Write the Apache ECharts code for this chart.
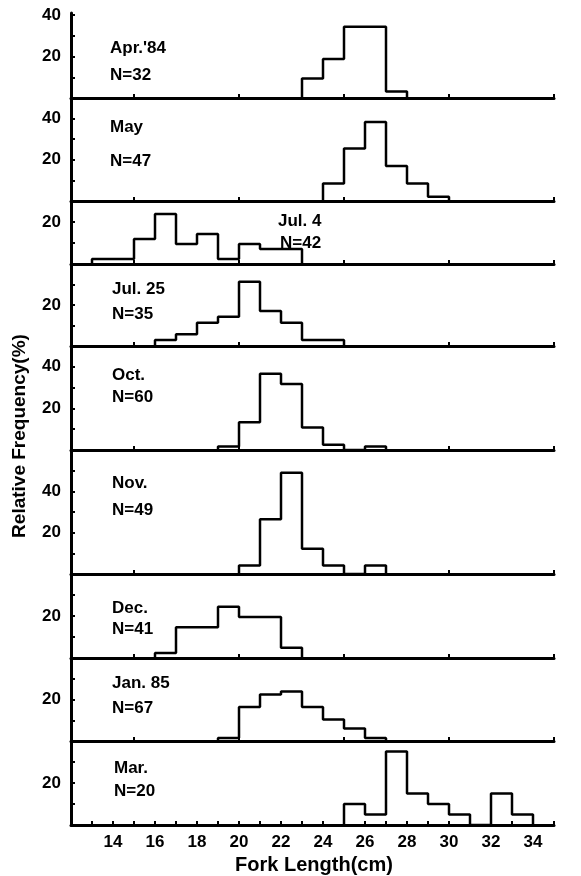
<!DOCTYPE html>
<html>
<head>
<meta charset="utf-8">
<script src="https://cdn.jsdelivr.net/npm/echarts@6/dist/echarts.min.js"></script>
<style>
  html, body { margin: 0; background: #fff; }
  #chart { width: 581px; height: 876px; }
</style>
</head>
<body>
<div id="chart"></div>
<script>
// relative frequency (%) per 1 cm fork length class, first class starts at binStart
const panelNames = ["Apr.'84", "May", "Jul. 4", "Jul. 25", "Oct.", "Nov.", "Dec.", "Jan. 85", "Mar."];
const panelN = ["N=32", "N=47", "N=42", "N=35", "N=60", "N=49", "N=41", "N=67", "N=20"];
const binStart = [23, 24, 13, 16, 19, 20, 16, 19, 25];

const aprFreq = [9.4, 18.8, 34.4, 34.4, 3.1];
const mayFreq = [8.5, 25.5, 38.3, 17.0, 8.5, 2.1];
const jul4Freq = [2.4, 2.4, 11.9, 23.8, 9.5, 14.3, 2.4, 9.5, 7.1, 7.1];
const jul25Freq = [2.9, 5.7, 11.4, 14.3, 31.4, 17.1, 11.4, 2.9, 2.9];
const octFreq = [1.7, 13.3, 36.7, 31.7, 10.8, 2.5, 0, 1.7];
const novFreq = [4.1, 26.5, 49.0, 12.2, 4.1, 0, 4.1];
const decFreq = [2.4, 14.6, 14.6, 24.4, 19.5, 19.5, 4.9];
const janFreq = [1.5, 16.4, 22.4, 23.9, 16.4, 10.4, 6.0, 1.5];
const marFreq = [10, 5, 35, 15, 10, 5, 0, 15, 5];
const freqs = [aprFreq, mayFreq, jul4Freq, jul25Freq, octFreq, novFreq, decFreq, janFreq, marFreq];

// axes
const yMax = [41, 50, 30, 40, 50, 60, 40, 40, 40];
const yLabels = [[20, 40], [20, 40], [20], [20], [20, 40], [20, 40], [20], [20], [20]];
const yTicks = [
  [10, 20, 30, 40], [10, 20, 30, 40], [10, 20], [10, 20, 30], [10, 20, 30, 40],
  [10, 20, 30, 40, 50], [10, 20, 30], [10, 20, 30], [10, 20, 30]
];
const xTicksUpper = [15, 20, 25, 30, 35];
const xTicksBottom = [13, 14, 15, 16, 17, 18, 19, 20, 21, 22, 23, 24, 25, 26, 27, 28, 29, 30, 31, 32, 33, 34, 35];
const xLabels = [14, 16, 18, 20, 22, 24, 26, 28, 30, 32, 34];

// layout (px)
const panelTop = [13, 98, 201, 264, 346, 450, 574, 658, 741];
const panelBottom = [98, 201, 264, 346, 450, 574, 658, 741, 825];
const namePos = [[110, 48], [110, 127], [278, 221], [112, 289], [112, 375], [112, 483], [112, 608], [112, 683], [114, 768]];
const nPos = [[110, 75], [110, 161], [280, 243], [112, 314], [112, 397], [112, 510], [112, 629], [112, 708], [114, 791]];

const FONT = "Liberation Sans";
const chart = echarts.init(document.getElementById("chart"));

const grid = [], xAxis = [], yAxis = [], series = [], graphic = [];
freqs.forEach((f, i) => {
  const last = i === freqs.length - 1;
  grid.push({ left: 71, right: 27, top: panelTop[i], height: panelBottom[i] - panelTop[i] });
  xAxis.push({
    type: "value", gridIndex: i, min: 12, max: 35,
    axisLine: { show: true, lineStyle: { color: "#000", width: 3 } },
    axisTick: { show: true, inside: true, length: 4, customValues: last ? xTicksBottom : xTicksUpper, lineStyle: { color: "#000", width: 2 } },
    axisLabel: { show: last, customValues: xLabels, margin: 9, color: "#000", fontFamily: FONT, fontWeight: "bold", fontSize: 17 },
    splitLine: { show: false }
  });
  yAxis.push({
    type: "value", gridIndex: i, min: 0, max: yMax[i],
    axisLine: { show: true, lineStyle: { color: "#000", width: 3 } },
    axisTick: { show: true, inside: true, length: 4, customValues: yTicks[i], lineStyle: { color: "#000", width: 2 } },
    axisLabel: { customValues: yLabels[i], margin: 10, color: "#000", fontFamily: FONT, fontWeight: "bold", fontSize: 17 },
    splitLine: { show: false }
  });
  // step outline: up at first edge, across each class, down at last edge
  const s = binStart[i];
  const pts = [[s, 0]];
  f.forEach((v, k) => pts.push([s + k, v]));
  pts.push([s + f.length, 0]);
  series.push({
    type: "line", xAxisIndex: i, yAxisIndex: i, step: "end", data: pts,
    symbol: "none", silent: true,
    lineStyle: { color: "#000", width: 2.5 }
  });
  graphic.push({ type: "text", x: namePos[i][0], y: namePos[i][1],
    style: { text: panelNames[i], font: "bold 17px " + FONT, fill: "#000", textVerticalAlign: "middle" } });
  graphic.push({ type: "text", x: nPos[i][0], y: nPos[i][1],
    style: { text: panelN[i], font: "bold 17px " + FONT, fill: "#000", textVerticalAlign: "middle" } });
});

graphic.push({ type: "text", x: 20, y: 436, rotation: Math.PI / 2,
  style: { text: "Relative Frequency(%)", font: "bold 19px " + FONT, fill: "#000", textAlign: "center", textVerticalAlign: "middle" } });
graphic.push({ type: "text", x: 314, y: 865,
  style: { text: "Fork Length(cm)", font: "bold 20px " + FONT, fill: "#000", textAlign: "center", textVerticalAlign: "middle" } });

chart.setOption({
  animation: false,
  backgroundColor: "#fff",
  grid: grid,
  xAxis: xAxis,
  yAxis: yAxis,
  series: series,
  graphic: graphic
});
</script>
</body>
</html>
